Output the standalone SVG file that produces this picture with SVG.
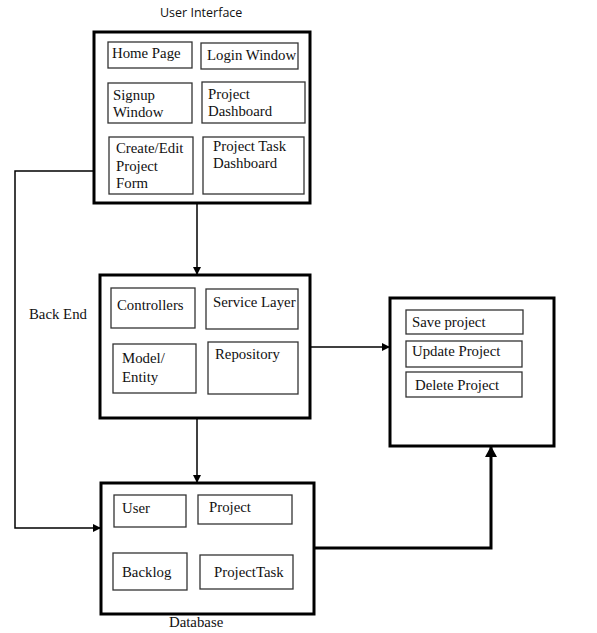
<svg xmlns="http://www.w3.org/2000/svg" width="597" height="633" viewBox="0 0 597 633">
<style>
.outer{fill:#fff;stroke:#000;stroke-width:3}
.inner{fill:#fff;stroke:#333;stroke-width:1.3}
.t{font-family:"Liberation Serif","Times New Roman",serif;font-size:14.8px;fill:#111}
.s{font-family:"Open Sans","Liberation Sans",sans-serif;font-size:12.5px;fill:#111}
.c{fill:none;stroke:#000;stroke-width:1.5}
.ct{fill:none;stroke:#000;stroke-width:3}
</style>
<defs>
<marker id="ah" markerWidth="8" markerHeight="8" refX="7" refY="4" orient="auto" markerUnits="userSpaceOnUse">
<path d="M0,0 L8,4 L0,8 z" fill="#000"/>
</marker>
<marker id="ahb" markerWidth="12" markerHeight="12" refX="10" refY="6" orient="auto" markerUnits="userSpaceOnUse">
<path d="M0,0 L11,6 L0,12 z" fill="#000"/>
</marker>
</defs>
<rect width="597" height="633" fill="#fff"/>
<g id="connectors">
<path class="c" d="M94,171 H15 V528 H100" marker-end="url(#ah)"/>
<path class="c" d="M197,203 V274" marker-end="url(#ah)"/>
<path class="c" d="M197,418 V482" marker-end="url(#ah)"/>
<path class="c" d="M310,347 H389" marker-end="url(#ah)"/>
<path class="ct" d="M314,548 H491 V447" marker-end="url(#ahb)"/>
</g>
<g id="user-interface">
<text class="s" x="160" y="17">User Interface</text>
<rect class="outer" x="94" y="32" width="216" height="171"/>
<g id="home-page"><rect class="inner" x="108" y="42" width="84" height="26"/><text class="t" x="112" y="58">Home Page</text></g>
<g id="login-window"><rect class="inner" x="201" y="43" width="97" height="26"/><text class="t" x="207" y="60">Login Window</text></g>
<g id="signup-window"><rect class="inner" x="108" y="83" width="84" height="40"/><text class="t" x="113" y="100">Signup</text><text class="t" x="113" y="117">Window</text></g>
<g id="project-dashboard"><rect class="inner" x="202" y="82" width="103" height="41"/><text class="t" x="208" y="99">Project</text><text class="t" x="208" y="116">Dashboard</text></g>
<g id="create-edit-form"><rect class="inner" x="109" y="137" width="84" height="57"/><text class="t" x="116" y="153">Create/Edit</text><text class="t" x="116" y="171">Project</text><text class="t" x="116" y="188">Form</text></g>
<g id="project-task-dashboard"><rect class="inner" x="203" y="137" width="101" height="57"/><text class="t" x="213" y="151">Project Task</text><text class="t" x="213" y="168">Dashboard</text></g>
</g>
<g id="back-end">
<text class="t" x="29" y="319">Back End</text>
<rect class="outer" x="100" y="275" width="210" height="143"/>
<g id="controllers"><rect class="inner" x="111" y="288" width="84" height="40"/><text class="t" x="117" y="310">Controllers</text></g>
<g id="service-layer"><rect class="inner" x="206" y="289" width="92" height="40"/><text class="t" x="213" y="307">Service Layer</text></g>
<g id="model-entity"><rect class="inner" x="113" y="344" width="83" height="49"/><text class="t" x="122" y="363">Model/</text><text class="t" x="122" y="382">Entity</text></g>
<g id="repository"><rect class="inner" x="208" y="342" width="90" height="52"/><text class="t" x="215" y="359">Repository</text></g>
</g>
<g id="project-actions">
<rect class="outer" x="390" y="298" width="164" height="148"/>
<g id="save-project"><rect class="inner" x="406" y="310" width="117" height="24"/><text class="t" x="412" y="327">Save project</text></g>
<g id="update-project"><rect class="inner" x="406" y="341" width="116" height="26"/><text class="t" x="412" y="356">Update Project</text></g>
<g id="delete-project"><rect class="inner" x="406" y="372" width="116" height="25"/><text class="t" x="415" y="390">Delete Project</text></g>
</g>
<g id="database">
<rect class="outer" x="101" y="483" width="213" height="131"/>
<text class="t" x="169" y="627">Database</text>
<g id="user"><rect class="inner" x="114" y="495" width="72" height="32"/><text class="t" x="122" y="513">User</text></g>
<g id="project"><rect class="inner" x="198" y="495" width="94" height="29"/><text class="t" x="209" y="512">Project</text></g>
<g id="backlog"><rect class="inner" x="113" y="553" width="74" height="37"/><text class="t" x="122" y="577">Backlog</text></g>
<g id="project-task"><rect class="inner" x="200" y="555" width="93" height="34"/><text class="t" x="214" y="577">ProjectTask</text></g>
</g>
</svg>
